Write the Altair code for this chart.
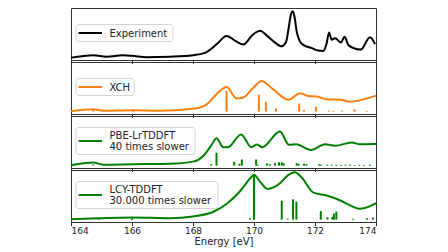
import altair as alt
import pandas as pd

# ---------------- data ----------------
exp_E = [164.0, 164.35, 164.73, 165.17, 165.7, 166.0, 166.48, 167.25, 168.0, 168.39,
         168.77, 169.1, 169.4, 169.65, 169.95, 170.2, 170.45, 170.63, 170.91, 171.05,
         171.13, 171.2, 171.27, 171.33, 171.4, 171.5, 171.62, 171.9, 172.1, 172.27,
         172.38, 172.46, 172.55, 172.66, 172.85, 172.97, 173.1, 173.5, 173.8, 173.97]
exp_v = [0.00, 0.03, 0.05, 0.02, 0.05, 0.04, 0.01, 0.02, 0.05, 0.10,
         0.28, 0.46, 0.35, 0.28, 0.48, 0.57, 0.45, 0.35, 0.24, 0.33,
         0.60, 0.88, 0.98, 0.86, 0.55, 0.35, 0.27, 0.20, 0.15, 0.14,
         0.30, 0.53, 0.38, 0.41, 0.32, 0.44, 0.26, 0.17, 0.43, 0.29]

xch_E = [164.0, 164.73, 165.06, 166.04, 166.9, 168.0, 168.44, 168.77, 169.1, 169.43,
         169.65, 169.97, 170.25, 170.63, 171.13, 171.51, 171.78, 172.06, 172.38, 172.84,
         173.15, 173.6, 174.0]
xch_v = [0.01, 0.05, 0.02, 0.03, 0.02, 0.06, 0.15, 0.37, 0.52, 0.28,
         0.30, 0.50, 0.65, 0.47, 0.25, 0.39, 0.33, 0.32, 0.26, 0.25,
         0.21, 0.26, 0.34]
xch_sE = [164.73, 166.04, 169.1, 170.16, 170.39, 170.72, 171.48, 171.64, 172.03, 172.46,
          172.6, 172.88, 173.3, 173.7]
xch_sv = [0.03, 0.02, 0.44, 0.36, 0.21, 0.065, 0.17, 0.03, 0.10, 0.02,
          0.015, 0.02, 0.05, 0.015]

pbe_E = [164.0, 164.73, 165.06, 166.04, 167.25, 168.0, 168.33, 168.6, 168.77, 168.99,
         169.14, 169.58, 169.91, 170.1, 170.27, 170.85, 171.15, 171.38, 171.87, 172.33,
         172.66, 173.2, 173.48, 173.9, 174.0]
pbe_v = [0.01, 0.065, 0.02, 0.03, 0.04, 0.085, 0.20, 0.43, 0.58, 0.39,
         0.39, 0.66, 0.39, 0.445, 0.39, 0.72, 0.44, 0.45, 0.33, 0.45,
         0.42, 0.49, 0.45, 0.46, 0.46]
pbe_sE = [164.73, 168.6, 168.77, 169.35, 169.52, 169.6, 170.07, 170.12, 170.43, 170.52,
          170.69, 170.82, 170.91, 170.97, 171.4, 171.46, 171.64, 171.72, 172.14, 172.2,
          172.4, 172.55, 172.7, 172.85, 173.0, 173.15, 173.3, 173.45, 173.6, 173.8]
pbe_sv = [0.02, 0.03, 0.275, 0.08, 0.04, 0.13, 0.13, 0.02, 0.05, 0.03,
          0.05, 0.07, 0.07, 0.05, 0.05, 0.04, 0.04, 0.03, 0.03, 0.02,
          0.02, 0.02, 0.02, 0.015, 0.02, 0.02, 0.015, 0.02, 0.015, 0.02]

lcy_E = [164.0, 164.9, 165.98, 167.25, 168.0, 168.67, 169.1, 169.54, 169.87, 170.0,
         170.2, 170.44, 170.85, 171.1, 171.34, 171.55, 171.95, 172.38, 172.85, 173.15,
         173.48, 173.75, 174.0]
lcy_v = [0.01, 0.03, 0.047, 0.03, 0.067, 0.167, 0.33, 0.60, 0.87, 0.95,
         0.80, 0.65, 0.77, 0.93, 1.00, 0.90, 0.57, 0.51, 0.40, 0.30,
         0.23, 0.27, 0.35]
lcy_sE = [164.9, 166.0, 169.87, 170.0, 170.91, 171.1, 171.28, 171.39, 172.19, 172.41,
          172.57, 172.62, 172.7, 173.25, 173.7, 173.9]
lcy_sv = [0.03, 0.03, 0.03, 0.94, 0.40, 0.02, 0.43, 0.38, 0.18, 0.05,
          0.06, 0.13, 0.17, 0.02, 0.03, 0.04]

ticks = [164, 166, 168, 170, 172, 174]

# ---------------- layout ----------------
W = 305
H = 52
FONT = "DejaVu Sans"

xscale = alt.Scale(domain=[164, 174], nice=False, zero=False)
yscale = alt.Scale(domain=[-0.05, 1.05], nice=False, zero=False)


def panel(cE, cv, sE, sv, color, label, box_w, bottom=False):
    cdf = pd.DataFrame({"E": cE, "v": cv})
    if bottom:
        xaxis = alt.Axis(values=ticks, title="Energy [eV]", labelFontSize=9,
                         tickSize=3.5, labelPadding=1, titleFontSize=10,
                         titleFontWeight="normal", titlePadding=1, grid=False,
                         domain=False, tickColor="#222", labelColor="#222",
                         titleColor="#222", labelFont=FONT, titleFont=FONT)
    else:
        xaxis = alt.Axis(values=ticks, title=None, labels=False, tickSize=3.5,
                         grid=False, domain=False, tickColor="#222")
    line = alt.Chart(cdf).mark_line(interpolate="monotone", strokeWidth=2,
                                    color=color).encode(
        x=alt.X("E:Q", scale=xscale, axis=xaxis),
        y=alt.Y("v:Q", scale=yscale, axis=None),
    )
    layers = [line]
    if sE:
        sdf = pd.DataFrame({"E": sE, "v": sv})
        sticks = alt.Chart(sdf).mark_rule(strokeWidth=2, color=color).encode(
            x=alt.X("E:Q", scale=xscale, axis=xaxis),
            y=alt.Y("v:Q", scale=yscale, axis=None),
            y2=alt.datum(0),
        )
        layers.append(sticks)

    one = pd.DataFrame({"a": [0]})
    lines = label.split("\n")
    box_h = 17 if len(lines) == 1 else 27
    yc = H / 2 - 1
    box = alt.Chart(one).mark_rect(fill="white", stroke="#d0d0d0", strokeWidth=1,
                                   cornerRadius=3, opacity=0.9).encode(
        x=alt.value(5), x2=alt.value(5 + box_w),
        y=alt.value(yc - box_h / 2), y2=alt.value(yc + box_h / 2),
    )
    sample = alt.Chart(one).mark_rule(strokeWidth=2, color=color).encode(
        x=alt.value(7.5), x2=alt.value(31), y=alt.value(yc),
    )
    txt = alt.Chart(one).mark_text(align="left", baseline="middle", fontSize=10,
                                   font=FONT, color="#222", lineBreak="\n",
                                   lineHeight=11).encode(
        x=alt.value(38.5), y=alt.value(yc - (len(lines) - 1) * 5.5 + 0.5),
        text=alt.value(label),
    )
    layers += [box, sample, txt]
    return alt.layer(*layers).properties(width=W, height=H)


p1 = panel(exp_E, exp_v, None, None, "black", "Experiment", 97)
p2 = panel(xch_E, xch_v, xch_sE, xch_sv, "#ff7f0e", "XCH", 58)
p3 = panel(pbe_E, pbe_v, pbe_sE, pbe_sv, "green", "PBE-LrTDDFT\n40 times slower", 119)
p4 = panel(lcy_E, lcy_v, lcy_sE, lcy_sv, "green", "LCY-TDDFT\n30.000 times slower", 142,
           bottom=True)

chart = alt.vconcat(p1, p2, p3, p4, spacing=2, bounds="flush").properties(
    padding={"left": 58, "top": -2, "right": 5, "bottom": 0},
    background="white",
).configure_view(stroke="#333", strokeWidth=1)

chart.save("out.html", embed_options={"renderer": "svg", "actions": False})
